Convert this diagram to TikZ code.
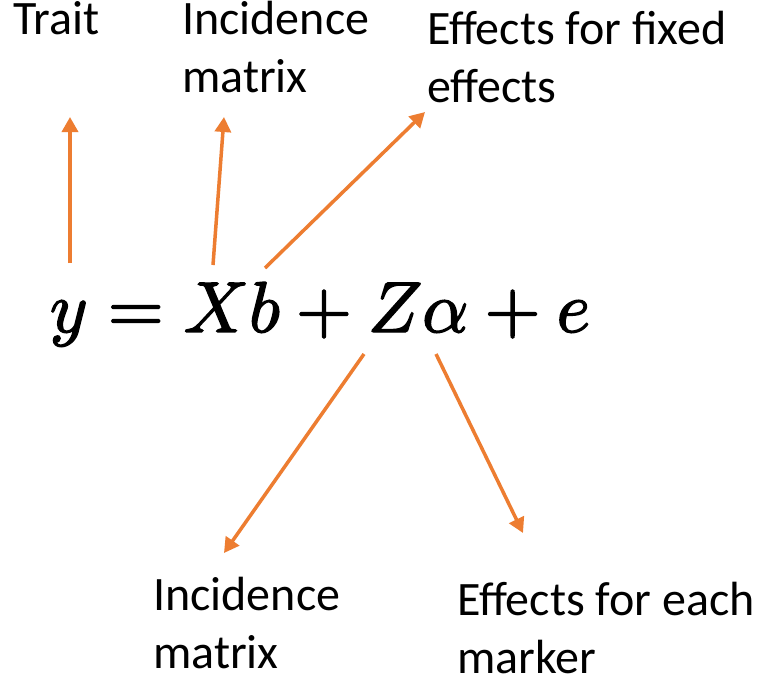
\documentclass[tikz,border=0pt]{standalone}
\usepackage{fontspec}
\setmainfont{Carlito}
\usetikzlibrary{arrows.meta}
\definecolor{arrorange}{HTML}{ED7D31}
\begin{document}
\begin{tikzpicture}[x=1pt,y=-1pt,
  lbl/.style={anchor=base west,inner sep=0pt,align=left,font=\fontsize{48}{58}\selectfont},
  eqn/.style={anchor=base,inner sep=0pt,font=\fontsize{10}{12}\selectfont},
  conn/.style={draw=arrorange,line width=3.5pt,-{Triangle[length=15pt,width=16pt]}}]
\useasboundingbox[fill=white] (0,0) rectangle (759,681);
\node[lbl] (trait) at (13,34) {Trait};
\node[lbl] (inctop) at (182,92) {Incidence\\matrix};
\node[lbl] (fixed) at (427,102) {Effects for fixed\\effects};
\node[lbl] (incbot) at (153,668) {Incidence\\matrix};
\node[lbl] (each) at (457,673) {Effects for each\\marker};
\node[eqn] (eq) at (320,332) {\scalebox{7.2}{\special{pdf:literal direct 2 Tr 0.2 w}$y=Xb+Z\alpha+e$\special{pdf:literal direct 0 Tr}}};
\coordinate (t1) at (70,263);   \coordinate (h1) at (70,117);
\coordinate (t2) at (213,265);  \coordinate (h2) at (224,117);
\coordinate (t3) at (265,268);  \coordinate (h3) at (425,112);
\coordinate (t4) at (364,354);  \coordinate (h4) at (224,553);
\coordinate (t5) at (436,354);  \coordinate (h5) at (523,533);
\draw[conn] (t1) -- (h1);
\draw[conn] (t2) -- (h2);
\draw[conn] (t3) -- (h3);
\draw[conn] (t4) -- (h4);
\draw[conn] (t5) -- (h5);
\end{tikzpicture}
\end{document}
